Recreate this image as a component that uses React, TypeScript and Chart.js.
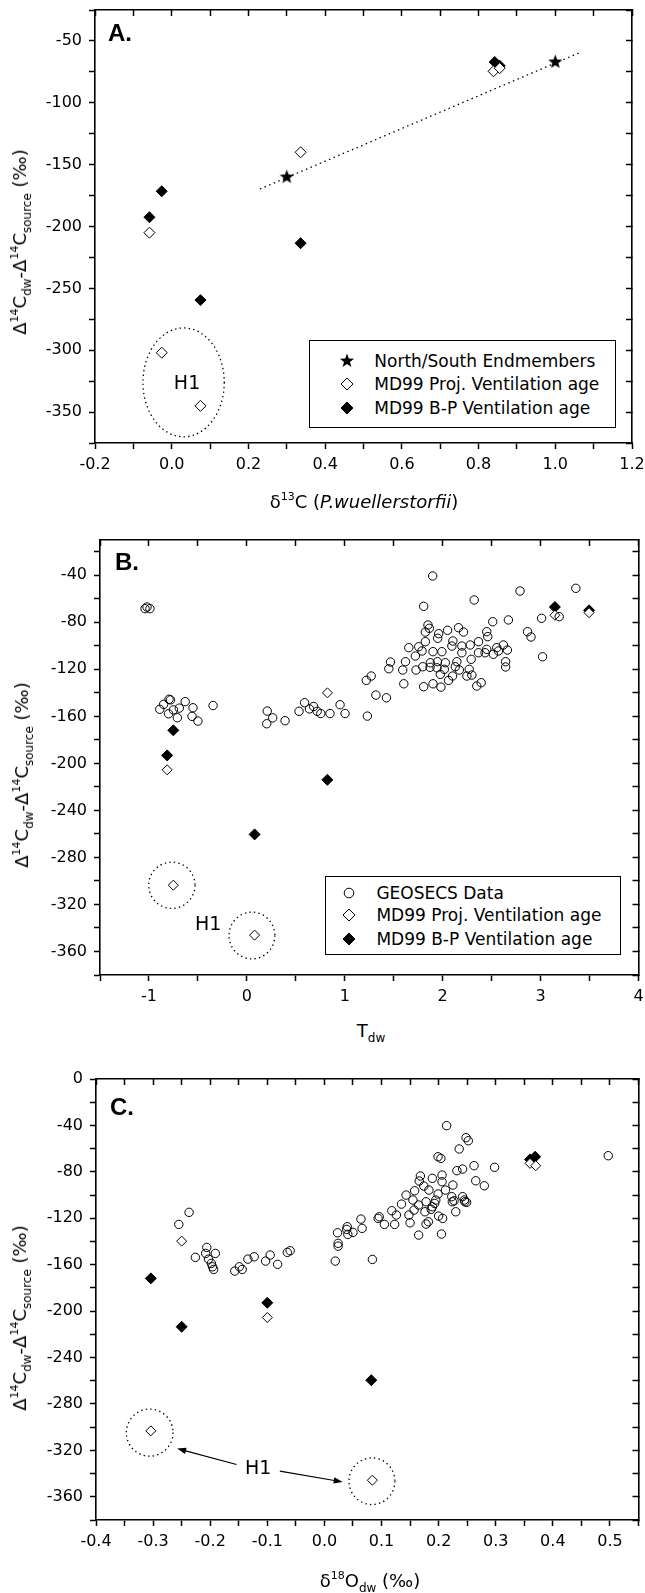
import React, { useEffect, useRef } from "react";
import { Chart, registerables } from "chart.js";

Chart.register(...registerables);

// ---------------- Panel A data ----------------
const aLegend = ["North/South Endmembers", "MD99 Proj. Ventilation age", "MD99 B-P Ventilation age"];
const aEndX = [0.3, 1.0];
const aEndY = [-160, -67];
const aProjX = [-0.058, -0.026, 0.075, 0.336, 0.839, 0.855];
const aProjY = [-205, -302, -345, -140, -74.5, -72];
const aBpX = [-0.058, -0.026, 0.075, 0.336, 0.842, 0.855];
const aBpY = [-192.5, -171.5, -259.5, -213.5, -67, -70];
const aFitX = [0.23, 1.065];
const aFitY = [-169.7, -59.3];
const aXTickLabels = ["-0.2", "0.0", "0.2", "0.4", "0.6", "0.8", "1.0", "1.2"];
const aYTickLabels = ["-50", "-100", "-150", "-200", "-250", "-300", "-350"];

// ---------------- Panel B data ----------------
const bLegend = ["GEOSECS Data", "MD99 Proj. Ventilation age", "MD99 B-P Ventilation age"];
const bGeoX = [
  -1.04, -1.02, -0.99, -0.89, -0.85, -0.795, -0.78, -0.8, -0.75, -0.69, -0.63, -0.71, -0.55, -0.56, -0.5, -0.345,
  0.208, 0.203, 0.264, 0.39, 0.533, 0.59, 0.639, 0.682, 0.718, 0.755, 0.849, 0.952, 1.003, 1.231, 1.22, 1.27, 1.318, 1.426,
  1.898, 1.806, 2.322, 2.79, 3.36, 3.01, 3.19, 2.511, 2.671, 2.867, 2.902, 3.02, 1.85, 1.864, 1.823, 1.959, 1.949, 2.05,
  2.162, 2.213, 2.45, 2.46, 2.366, 2.104, 1.823, 1.755, 1.654, 1.789, 1.901, 1.992, 2.094, 2.196, 2.281, 2.366, 2.45,
  2.518, 2.552, 2.62, 2.661, 2.569, 2.196, 1.721, 1.62, 1.467, 1.45, 1.592, 1.728, 1.796, 1.874, 1.942, 2.017, 1.976,
  2.027, 2.145, 2.129, 2.17, 2.101, 2.06, 2.247, 2.298, 2.271, 2.291, 2.393, 2.348, 2.643, 2.643, 1.806, 1.901, 1.982,
  1.603, 2.433, 1.946, 1.871,
];
const bGeoY = [
  -68.4, -67, -68.4, -154, -149.8, -145.5, -146, -157.8, -154.5, -153, -147.5, -161.2, -152.7, -160, -164, -150.8,
  -155.5, -166.3, -161.3, -163.7, -155.7, -148.4, -153.7, -151.6, -155.7, -157.6, -157.6, -150.1, -157.6, -159.8, -129.4, -125.7, -141.9, -144.2,
  -40.6, -66.4, -61, -53.4, -51.1, -76.6, -75.2, -79.5, -78, -88, -92.5, -109.3, -82.3, -85.1, -88.3, -89.7, -93.6, -86.8,
  -84.6, -88.3, -88, -92.2, -96.5, -95.9, -96.5, -100.8, -101.6, -104.4, -105, -105, -100.2, -100.2, -99.3, -105.9, -103,
  -107.2, -101.6, -99.3, -103.6, -104.4, -105.9, -108.7, -113.5, -113.8, -119.5, -120.6, -120.6, -117.8, -114.4, -118.7, -120, -124.3,
  -114.4, -113.5, -117.8, -120.6, -125.7, -129.4, -125.7, -124.9, -120, -111.5, -131.4, -134.2, -113.5, -118, -134.8, -132.3, -135.1,
  -132.3, -105.9, -113.5, -118.3,
];
const bProjX = [-0.814, -0.751, 0.079, 0.823, 3.146, 3.495];
const bProjY = [-205.5, -303.6, -346.1, -140, -74, -71.8];
const bBpX = [-0.814, -0.751, 0.079, 0.822, 3.146, 3.495];
const bBpY = [-193.2, -171.9, -260.4, -214, -67, -69.8];
const bXTickLabels = ["-1", "0", "1", "2", "3", "4"];
const bYTickLabels = ["-40", "-80", "-120", "-160", "-200", "-240", "-280", "-320", "-360"];

// ---------------- Panel C data ----------------
const cGeoX = [
  -0.237, -0.255, -0.226, -0.206, -0.208, -0.203, -0.191, -0.198, -0.196, -0.194, -0.157, -0.149, -0.144, -0.134, -0.123,
  -0.103, -0.095, -0.082, -0.065, -0.06,
  0.019, 0.023, 0.024, 0.024, 0.039, 0.041, 0.05, 0.064, 0.066, 0.084, 0.094, 0.096, 0.105, 0.118, 0.126, 0.123, 0.135,
  0.15, 0.148, 0.157, 0.165, 0.165, 0.176, 0.178, 0.182, 0.189, 0.195, 0.2, 0.205, 0.207, 0.23, 0.224, 0.246, 0.04, 0.187,
  0.178, 0.193,
  0.497, 0.214, 0.248, 0.252, 0.236, 0.199, 0.204, 0.232, 0.242, 0.262, 0.298, 0.265, 0.28, 0.168, 0.189, 0.206, 0.206,
  0.166, 0.174, 0.158, 0.183, 0.225, 0.143, 0.155, 0.199, 0.212, 0.223, 0.242, 0.227, 0.245, 0.249,
];
const cGeoY = [
  -114.9, -125.3, -153.7, -145.1, -150.3, -155.2, -150.3, -158.9, -161.8, -164.1, -165.5, -161.8, -164.1, -155.2, -153.2,
  -156.9, -151.7, -159.7, -149.4, -148,
  -156.9, -132.5, -141.6, -144, -129.6, -133.9, -132.2, -120.7, -128.7, -155.5, -120.1, -118.7, -125.3, -113.5, -117.2, -125.3, -107.8,
  -123.9, -117.2, -112.9, -134.5, -108.6, -114.4, -125, -123, -110.1, -104.3, -118.1, -133.6, -120.1, -114.4, -105.8, -105.8, -127.3, -112.3,
  -105.8, -107.2,
  -66.1, -40.2, -50.6, -53.2, -60.3, -67, -68.4, -79, -77.6, -74.7, -76.1, -87.7, -92, -83.6, -85.6, -82.8, -88.5,
  -87.9, -92.2, -96.3, -95.7, -91.4, -100, -104.3, -99.1, -95.7, -101.4, -101.4, -104.9, -104.3, -106.3,
];
const cProjX = [-0.25, -0.1, -0.304, 0.084, 0.36, 0.37];
const cProjY = [-139.7, -205.5, -303.2, -345.7, -72.7, -74.7];
const cBpX = [-0.304, -0.25, -0.1, 0.082, 0.36, 0.369];
const cBpY = [-171.8, -213.5, -192.8, -259.5, -69.3, -67];
const cXTickLabels = ["-0.4", "-0.3", "-0.2", "-0.1", "0.0", "0.1", "0.2", "0.3", "0.4", "0.5"];
const cYTickLabels = ["0", "-40", "-80", "-120", "-160", "-200", "-240", "-280", "-320", "-360"];

// ---------------- helpers ----------------
const FONT = '"DejaVu Sans", sans-serif';
const pts = (xs: number[], ys: number[]) => xs.map((x, i) => ({ x, y: ys[i] }));

type Geom = { W: number; H: number; left: number; right: number; top: number; bottom: number };
type AxisSpec = { min: number; max: number; step: number; labels: string[] };

function makeScales(g: Geom, xs: AxisSpec, ys: AxisSpec) {
  const zeroPad = (s: any) => {
    s.paddingLeft = 0;
    s.paddingRight = 0;
    s.paddingTop = 0;
    s.paddingBottom = 0;
  };
  const grid = (len: number) => ({
    drawOnChartArea: false,
    drawTicks: true,
    tickLength: len,
    tickWidth: 1.5,
    tickColor: "#000",
    color: "#000",
  });
  const border = { display: true, color: "#000", width: 1.6 };
  const tickFont = { family: FONT, size: 16 };
  const lab = (spec: AxisSpec) => (v: number) => {
    const hit = spec.labels.find((s) => Math.abs(parseFloat(s) - v) < 1e-6);
    return hit === undefined ? "" : hit;
  };
  return {
    x: {
      type: "linear",
      position: "bottom",
      min: xs.min,
      max: xs.max,
      ticks: {
        stepSize: xs.step,
        maxTicksLimit: 200,
        autoSkip: false,
        maxRotation: 0,
        minRotation: 0,
        includeBounds: false,
        padding: 6,
        color: "#000",
        font: tickFont,
        callback: lab(xs),
      },
      grid: grid(6),
      border,
      afterFit: (s: any) => {
        s.height = g.H - g.bottom;
        zeroPad(s);
      },
    },
    x2: {
      type: "linear",
      axis: "x",
      position: "top",
      min: xs.min,
      max: xs.max,
      ticks: { display: false, stepSize: xs.step, maxTicksLimit: 200, autoSkip: false, includeBounds: false },
      grid: grid(-6),
      border,
      afterFit: (s: any) => {
        s.height = 0;
        zeroPad(s);
      },
    },
    y: {
      type: "linear",
      position: "left",
      min: ys.min,
      max: ys.max,
      ticks: {
        stepSize: ys.step,
        maxTicksLimit: 200,
        autoSkip: false,
        includeBounds: false,
        padding: 7,
        color: "#000",
        font: tickFont,
        callback: lab(ys),
      },
      grid: grid(6),
      border,
      afterFit: (s: any) => {
        s.width = g.left;
        zeroPad(s);
      },
    },
    y2: {
      type: "linear",
      axis: "y",
      position: "right",
      min: ys.min,
      max: ys.max,
      ticks: { display: false, stepSize: ys.step, maxTicksLimit: 200, autoSkip: false, includeBounds: false },
      grid: grid(-6),
      border,
      afterFit: (s: any) => {
        s.width = 0;
        zeroPad(s);
      },
    },
  };
}

type Annot = {
  ellipses: { x: number; y: number; rx: number; ry: number }[];
  labels: { x: number; y: number; text: string }[];
  arrows: { x1: number; y1: number; x2: number; y2: number }[];
};

const annotPlugin = (a: Annot) => ({
  id: "annot",
  afterDatasetsDraw(chart: any) {
    const ctx = chart.ctx;
    const xs = chart.scales.x;
    const ys = chart.scales.y;
    ctx.save();
    ctx.strokeStyle = "#000";
    ctx.fillStyle = "#000";
    ctx.lineWidth = 1.3;
    ctx.setLineDash([1.4, 3.2]);
    for (const e of a.ellipses) {
      const cx = xs.getPixelForValue(e.x);
      const cy = ys.getPixelForValue(e.y);
      const rx = Math.abs(xs.getPixelForValue(e.x + e.rx) - cx);
      const ry = Math.abs(ys.getPixelForValue(e.y + e.ry) - cy);
      ctx.beginPath();
      ctx.ellipse(cx, cy, rx, ry, 0, 0, Math.PI * 2);
      ctx.stroke();
    }
    ctx.setLineDash([]);
    ctx.lineWidth = 1.2;
    for (const ar of a.arrows) {
      const x1 = xs.getPixelForValue(ar.x1);
      const y1 = ys.getPixelForValue(ar.y1);
      const x2 = xs.getPixelForValue(ar.x2);
      const y2 = ys.getPixelForValue(ar.y2);
      const ang = Math.atan2(y2 - y1, x2 - x1);
      const L = 9;
      const Wd = 3.2;
      ctx.beginPath();
      ctx.moveTo(x1, y1);
      ctx.lineTo(x2 - (L - 2) * Math.cos(ang), y2 - (L - 2) * Math.sin(ang));
      ctx.stroke();
      ctx.beginPath();
      ctx.moveTo(x2, y2);
      ctx.lineTo(x2 - L * Math.cos(ang) + Wd * Math.sin(ang), y2 - L * Math.sin(ang) - Wd * Math.cos(ang));
      ctx.lineTo(x2 - L * Math.cos(ang) - Wd * Math.sin(ang), y2 - L * Math.sin(ang) + Wd * Math.cos(ang));
      ctx.closePath();
      ctx.fill();
    }
    ctx.font = `19px ${FONT}`;
    ctx.textAlign = "center";
    ctx.textBaseline = "middle";
    for (const l of a.labels) {
      ctx.fillText(l.text, xs.getPixelForValue(l.x), ys.getPixelForValue(l.y));
    }
    ctx.restore();
  },
});

function makeStar(r: number) {
  const size = Math.ceil(r * 2 + 2);
  const c = document.createElement("canvas");
  c.width = size;
  c.height = size;
  const g = c.getContext("2d")!;
  g.beginPath();
  for (let i = 0; i < 10; i++) {
    const ang = -Math.PI / 2 + (i * Math.PI) / 5;
    const rr = i % 2 === 0 ? r : r * 0.42;
    g.lineTo(size / 2 + rr * Math.cos(ang), size / 2 + rr * Math.sin(ang));
  }
  g.closePath();
  g.fillStyle = "#000";
  g.fill();
  return c;
}

const openDiamond = (label: string, data: any[], r: number) => ({
  label,
  data,
  pointStyle: "rectRot",
  pointRadius: r,
  pointBackgroundColor: "#fff",
  pointBorderColor: "#000",
  pointBorderWidth: 1,
});
const filledDiamond = (label: string, data: any[], r: number) => ({
  label,
  data,
  pointStyle: "rectRot",
  pointRadius: r,
  pointBackgroundColor: "#000",
  pointBorderColor: "#000",
  pointBorderWidth: 1,
});
const openCircle = (label: string, data: any[]) => ({
  label,
  data,
  pointStyle: "circle",
  pointRadius: 4.2,
  pointBackgroundColor: "rgba(0,0,0,0)",
  pointBorderColor: "#000",
  pointBorderWidth: 1,
});

function baseOptions(g: Geom, xs: AxisSpec, ys: AxisSpec) {
  return {
    responsive: false,
    maintainAspectRatio: false,
    animation: false,
    events: [],
    layout: { padding: { left: 0, top: g.top, right: g.W - g.right, bottom: 0 } },
    plugins: { legend: { display: false }, tooltip: { enabled: false } },
    scales: makeScales(g, xs, ys),
  };
}

// layout geometry (pixels inside each canvas)
const GA: Geom = { W: 645, H: 490, left: 95, right: 632, top: 10, bottom: 443 };
const GB: Geom = { W: 645, H: 500, left: 100, right: 640, top: 30, bottom: 465 };
const GC: Geom = { W: 645, H: 510, left: 96, right: 644, top: 19, bottom: 460 };
const TOP_A = 0;
const TOP_B = 510;
const TOP_C = 1060;

const Sup = ({ t }: { t: string }) => (
  <span style={{ fontSize: 11, position: "relative", top: -8 }}>{t}</span>
);
const Sub = ({ t }: { t: string }) => (
  <span style={{ fontSize: 12, position: "relative", top: 5 }}>{t}</span>
);

const YTitle = ({ cx, cy }: { cx: number; cy: number }) => (
  <div
    style={{
      position: "absolute",
      left: cx,
      top: cy,
      transform: "translate(-50%,-50%) rotate(-90deg)",
      fontSize: 18,
      lineHeight: 1,
      whiteSpace: "nowrap",
    }}
  >
    Δ<Sup t="14" />C<Sub t="dw" />-Δ<Sup t="14" />C<Sub t="source" /> (‰)
  </div>
);

const Centered = ({ cx, cy, children }: any) => (
  <div
    style={{
      position: "absolute",
      left: cx,
      top: cy,
      transform: "translate(-50%,-50%)",
      fontSize: 18,
      lineHeight: 1,
      whiteSpace: "nowrap",
    }}
  >
    {children}
  </div>
);

const PanelLetter = ({ x, y, t }: { x: number; y: number; t: string }) => (
  <div
    style={{
      position: "absolute",
      left: x,
      top: y,
      fontFamily: '"Liberation Sans", Arial, sans-serif',
      fontWeight: "bold",
      fontSize: 24,
      lineHeight: 1,
    }}
  >
    {t}
  </div>
);

function starPoints(cx: number, cy: number, r: number, ri: number) {
  const p: string[] = [];
  for (let i = 0; i < 10; i++) {
    const ang = -Math.PI / 2 + (i * Math.PI) / 5;
    const rr = i % 2 === 0 ? r : ri;
    p.push(`${(cx + rr * Math.cos(ang)).toFixed(2)},${(cy + rr * Math.sin(ang)).toFixed(2)}`);
  }
  return p.join(" ");
}

const Marker = ({ kind, cx, cy }: { kind: string; cx: number; cy: number }) => {
  let shape: any;
  if (kind === "star") shape = <polygon points={starPoints(10, 10, 7.5, 3.1)} fill="#000" />;
  else if (kind === "open")
    shape = <polygon points="10,4 16,10 10,16 4,10" fill="#fff" stroke="#000" strokeWidth={1} />;
  else if (kind === "filled")
    shape = <polygon points="10,4 16,10 10,16 4,10" fill="#000" stroke="#000" strokeWidth={1} />;
  else shape = <circle cx={10} cy={10} r={4.8} fill="none" stroke="#000" strokeWidth={1} />;
  return (
    <svg width={20} height={20} style={{ position: "absolute", left: cx - 10, top: cy - 10 }}>
      {shape}
    </svg>
  );
};

const Legend = ({
  box,
  rows,
}: {
  box: { left: number; top: number; width: number; height: number; mx: number; tx: number };
  rows: { kind: string; text: string; y: number }[];
}) => (
  <>
    <div
      style={{
        position: "absolute",
        left: box.left,
        top: box.top,
        width: box.width,
        height: box.height,
        border: "1px solid #000",
        boxSizing: "border-box",
        background: "#fff",
      }}
    />
    {rows.map((r, i) => (
      <React.Fragment key={i}>
        <Marker kind={r.kind} cx={box.mx} cy={r.y} />
        <div
          style={{
            position: "absolute",
            left: box.tx,
            top: r.y,
            transform: "translateY(-50%)",
            fontSize: 17,
            lineHeight: 1,
            whiteSpace: "nowrap",
          }}
        >
          {r.text}
        </div>
      </React.Fragment>
    ))}
  </>
);

export default function App() {
  const refA = useRef<HTMLCanvasElement>(null);
  const refB = useRef<HTMLCanvasElement>(null);
  const refC = useRef<HTMLCanvasElement>(null);

  useEffect(() => {
    const star = makeStar(7.5);
    const axA = {
      x: { min: -0.2, max: 1.2, step: 0.1, labels: aXTickLabels },
      y: { min: -375, max: -25, step: 25, labels: aYTickLabels },
    };
    const chartA = new Chart(refA.current!, {
      type: "scatter",
      data: {
        datasets: [
          {
            label: "fit",
            data: pts(aFitX, aFitY),
            showLine: true,
            borderColor: "#000",
            borderWidth: 1.3,
            borderDash: [1.5, 3.5],
            pointRadius: 0,
          } as any,
          openDiamond(aLegend[1], pts(aProjX, aProjY), 5.5),
          filledDiamond(aLegend[2], pts(aBpX, aBpY), 5.5),
          { label: aLegend[0], data: pts(aEndX, aEndY), pointStyle: star, pointRadius: 8 } as any,
        ],
      },
      options: baseOptions(GA, axA.x, axA.y) as any,
      plugins: [
        annotPlugin({
          ellipses: [{ x: 0.031, y: -326, rx: 0.106, ry: 44 }],
          labels: [{ x: 0.04, y: -327, text: "H1" }],
          arrows: [],
        }),
      ],
    });

    const axB = {
      x: { min: -1.5, max: 4, step: 0.5, labels: bXTickLabels },
      y: { min: -380, max: -10, step: 20, labels: bYTickLabels },
    };
    const chartB = new Chart(refB.current!, {
      type: "scatter",
      data: {
        datasets: [
          openCircle(bLegend[0], pts(bGeoX, bGeoY)),
          openDiamond(bLegend[1], pts(bProjX, bProjY), 5),
          filledDiamond(bLegend[2], pts(bBpX, bBpY), 5.5),
        ] as any,
      },
      options: baseOptions(GB, axB.x, axB.y) as any,
      plugins: [
        annotPlugin({
          ellipses: [
            { x: -0.766, y: -303.7, rx: 0.2365, ry: 19.7 },
            { x: 0.052, y: -346.4, rx: 0.234, ry: 19.9 },
          ],
          labels: [{ x: -0.395, y: -337.6, text: "H1" }],
          arrows: [],
        }),
      ],
    });

    const axC = {
      x: { min: -0.4, max: 0.55, step: 0.05, labels: cXTickLabels },
      y: { min: -380, max: 0, step: 20, labels: cYTickLabels },
    };
    const chartC = new Chart(refC.current!, {
      type: "scatter",
      data: {
        datasets: [
          openCircle(bLegend[0], pts(cGeoX, cGeoY)),
          openDiamond(bLegend[1], pts(cProjX, cProjY), 5),
          filledDiamond(bLegend[2], pts(cBpX, cBpY), 5.5),
        ] as any,
      },
      options: baseOptions(GC, axC.x, axC.y) as any,
      plugins: [
        annotPlugin({
          ellipses: [
            { x: -0.306, y: -304.7, rx: 0.0409, ry: 20.3 },
            { x: 0.0832, y: -346.6, rx: 0.0402, ry: 20.1 },
          ],
          labels: [{ x: -0.116, y: -336.2, text: "H1" }],
          arrows: [
            { x1: -0.154, y1: -332.2, x2: -0.258, y2: -318.4 },
            { x1: -0.078, y1: -337.9, x2: 0.032, y2: -347.2 },
          ],
        }),
      ],
    });

    return () => {
      chartA.destroy();
      chartB.destroy();
      chartC.destroy();
    };
  }, []);

  return (
    <div
      style={{
        position: "absolute",
        left: 0,
        top: 0,
        width: 645,
        height: 1593,
        background: "#fff",
        fontFamily: FONT,
        color: "#000",
        overflow: "hidden",
      }}
    >
      <canvas ref={refA} width={GA.W} height={GA.H} style={{ position: "absolute", left: 0, top: TOP_A }} />
      <canvas ref={refB} width={GB.W} height={GB.H} style={{ position: "absolute", left: 0, top: TOP_B }} />
      <canvas ref={refC} width={GC.W} height={GC.H} style={{ position: "absolute", left: 0, top: TOP_C }} />

      <PanelLetter x={108} y={21} t="A." />
      <PanelLetter x={115} y={550} t="B." />
      <PanelLetter x={110} y={1095} t="C." />

      <YTitle cx={20} cy={242} />
      <YTitle cx={22} cy={775} />
      <YTitle cx={20} cy={1318} />

      <Centered cx={364} cy={502}>
        δ<Sup t="13" />C (<i>P.wuellerstorfii</i>)
      </Centered>
      <Centered cx={371} cy={1031}>
        T<Sub t="dw" />
      </Centered>
      <Centered cx={370} cy={1581}>
        δ<Sup t="18" />O<Sub t="dw" /> (‰)
      </Centered>

      <Legend
        box={{ left: 308.5, top: 340, width: 307.5, height: 88, mx: 346.8, tx: 374.3 }}
        rows={[
          { kind: "star", text: aLegend[0], y: 361 },
          { kind: "open", text: aLegend[1], y: 384.3 },
          { kind: "filled", text: aLegend[2], y: 407.7 },
        ]}
      />
      <Legend
        box={{ left: 325, top: 876, width: 296, height: 78.5, mx: 348.8, tx: 376.4 }}
        rows={[
          { kind: "circle", text: bLegend[0], y: 892.7 },
          { kind: "open", text: bLegend[1], y: 915.3 },
          { kind: "filled", text: bLegend[2], y: 938.7 },
        ]}
      />
    </div>
  );
}
